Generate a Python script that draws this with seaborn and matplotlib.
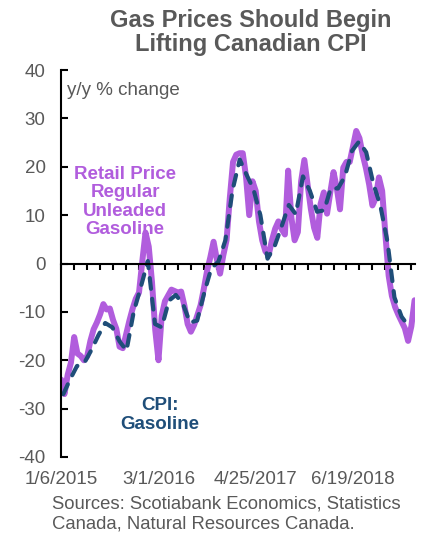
import pandas as pd
import matplotlib
matplotlib.use('Agg')
import matplotlib.pyplot as plt
import matplotlib.dates as mdates
import seaborn as sns

sns.set_style('white')
plt.rcParams['font.family'] = ['Liberation Sans', 'DejaVu Sans']
plt.rcParams['axes.unicode_minus'] = False

# Retail price of regular unleaded gasoline, y/y % change (every 2 weeks from 1/6/2015)
retail_pct = [
    -24, -27, -23, -20.5, -15.2, -18.6, -19.1, -20, -19.2, -16,
    -13.6, -12.2, -10.5, -8.4, -9.5, -9.3, -11.7, -13.5, -17.2, -17.5,
    -14.7, -11.9, -9.4, -7.3, -6, 0.4, 6.4, 3.5, -3.8, -13.7,
    -20, -10.8, -7.8, -6.6, -5.4, -5.7, -6, -5.8, -8.7, -12.5,
    -14.1, -12.7, -10.7, -8.6, -5.2, -1.5, 1.3, 4.5, 0.9, -2.1,
    1.7, 4.8, 13.5, 21, 22.5, 22.8, 22.8, 18, 10, 17,
    15, 8.7, 4.8, 2.5, 1.8, 4.8, 7.2, 8.7, 7.1, 6,
    19.2, 9.5, 4.8, 6.5, 17, 21.4, 16.3, 11.3, 7.4, 5.3,
    12.3, 14.7, 10.3, 14.7, 18.9, 15.6, 11.2, 19.8, 21, 21,
    24.2, 27.4, 25.9, 22.5, 19.7, 16.3, 12, 13.5, 17.8, 15,
    6, -2.5, -6.7, -9, -10.6, -12, -13.4, -16, -13, -7.6,
]

# CPI gasoline, y/y % change (monthly, Jan 2015 - Feb 2019)
cpi_pct = [
    -27, -23.8, -21.2, -20.6, -18, -14.9, -12.3, -13.2, -16.1, -18,
    -10, -5, 0.5, -12.5, -13.2, -7.7, -6.5, -8.4, -12.2, -11.8,
    -6, -1, 0.4, 4.8, 15.2, 21.5, 18.5, 15.4, 10, 1,
    3.5, 7.7, 12.1, 10.2, 18, 15, 10.7, 11, 15.6, 15.5,
    18, 23.3, 25.2, 23, 16.5, 12, 4.5, -7, -11, -13,
]

label_dates = ['2015-01-06', '2016-03-01', '2017-04-25', '2018-06-19']
label_text = ['1/6/2015', '3/1/2016', '4/25/2017', '6/19/2018']

retail_dates = pd.date_range('2015-01-06', periods=len(retail_pct), freq='14D')
cpi_dates = pd.date_range('2015-01-01', periods=len(cpi_pct), freq='MS') + pd.Timedelta(days=14)

purple = '#B15DDD'
navy = '#1F4E79'
grey = '#595959'

fig = plt.figure(figsize=(4.22, 5.34), dpi=100)
ax = fig.add_axes([0.1445, 0.1442, 0.839, 0.7247])

sns.lineplot(x=retail_dates, y=retail_pct, color=purple, lw=4.3, ax=ax)
sns.lineplot(x=cpi_dates, y=cpi_pct, color=navy, lw=3, ax=ax)
cpi_line = ax.lines[-1]
cpi_line.set_linestyle((0, (2.6, 2.4)))
cpi_line.set_dash_capstyle('round')

ax.set_ylim(-40, 40)
ax.set_yticks(range(-40, 41, 10))
ax.set_xlim(pd.Timestamp('2015-01-05'), pd.Timestamp('2019-03-14'))
ax.set_xlabel('')
ax.set_ylabel('')

for side in ['top', 'right']:
    ax.spines[side].set_visible(False)
ax.spines['left'].set_linewidth(1.5)
ax.spines['left'].set_color('black')
ax.spines['bottom'].set_position(('data', 0))
ax.spines['bottom'].set_linewidth(1.5)
ax.spines['bottom'].set_color('black')

ax.tick_params(axis='y', left=True, direction='in', length=5, width=1.5, colors='black',
               labelcolor=grey, labelsize=13.5, pad=11)

# small tick marks every 8 weeks on the zero line
tick_dates = pd.date_range('2015-01-06', '2019-03-14', freq='56D')
ax.set_xticks(mdates.date2num(tick_dates))
ax.set_xticklabels([''] * len(tick_dates))
ax.tick_params(axis='x', bottom=True, direction='out', length=4, width=1.5, colors='black')

# date labels under the plot
sec = ax.secondary_xaxis(0)
sec.set_xticks(mdates.date2num(pd.to_datetime(label_dates)))
sec.set_xticklabels(label_text)
sec.tick_params(length=0, labelsize=13.5, labelcolor=grey, pad=10)
sec.spines['bottom'].set_visible(False)

ax.text(0.017, 0.948, 'y/y % change', transform=ax.transAxes, fontsize=13.5,
        color=grey, va='center', ha='left')
ax.text(0.181, 0.659, 'Retail Price\nRegular\nUnleaded\nGasoline', transform=ax.transAxes,
        fontsize=13.5, fontweight='bold', color=purple, ha='center', va='center',
        linespacing=1.12)
ax.text(0.28, 0.109, 'CPI:\nGasoline', transform=ax.transAxes, fontsize=13.5,
        fontweight='bold', color=navy, ha='center', va='center', linespacing=1.12)

fig.text(0.595, 0.939, 'Gas Prices Should Begin\nLifting Canadian CPI', ha='center',
         va='center', fontsize=17, fontweight='bold', color=grey, linespacing=1.06)
fig.text(0.123, 0.0375, 'Sources: Scotiabank Economics, Statistics\nCanada, Natural Resources Canada.',
         ha='left', va='center', fontsize=13.3, color=grey, linespacing=1.19)

fig.savefig('out.png', dpi=100)
